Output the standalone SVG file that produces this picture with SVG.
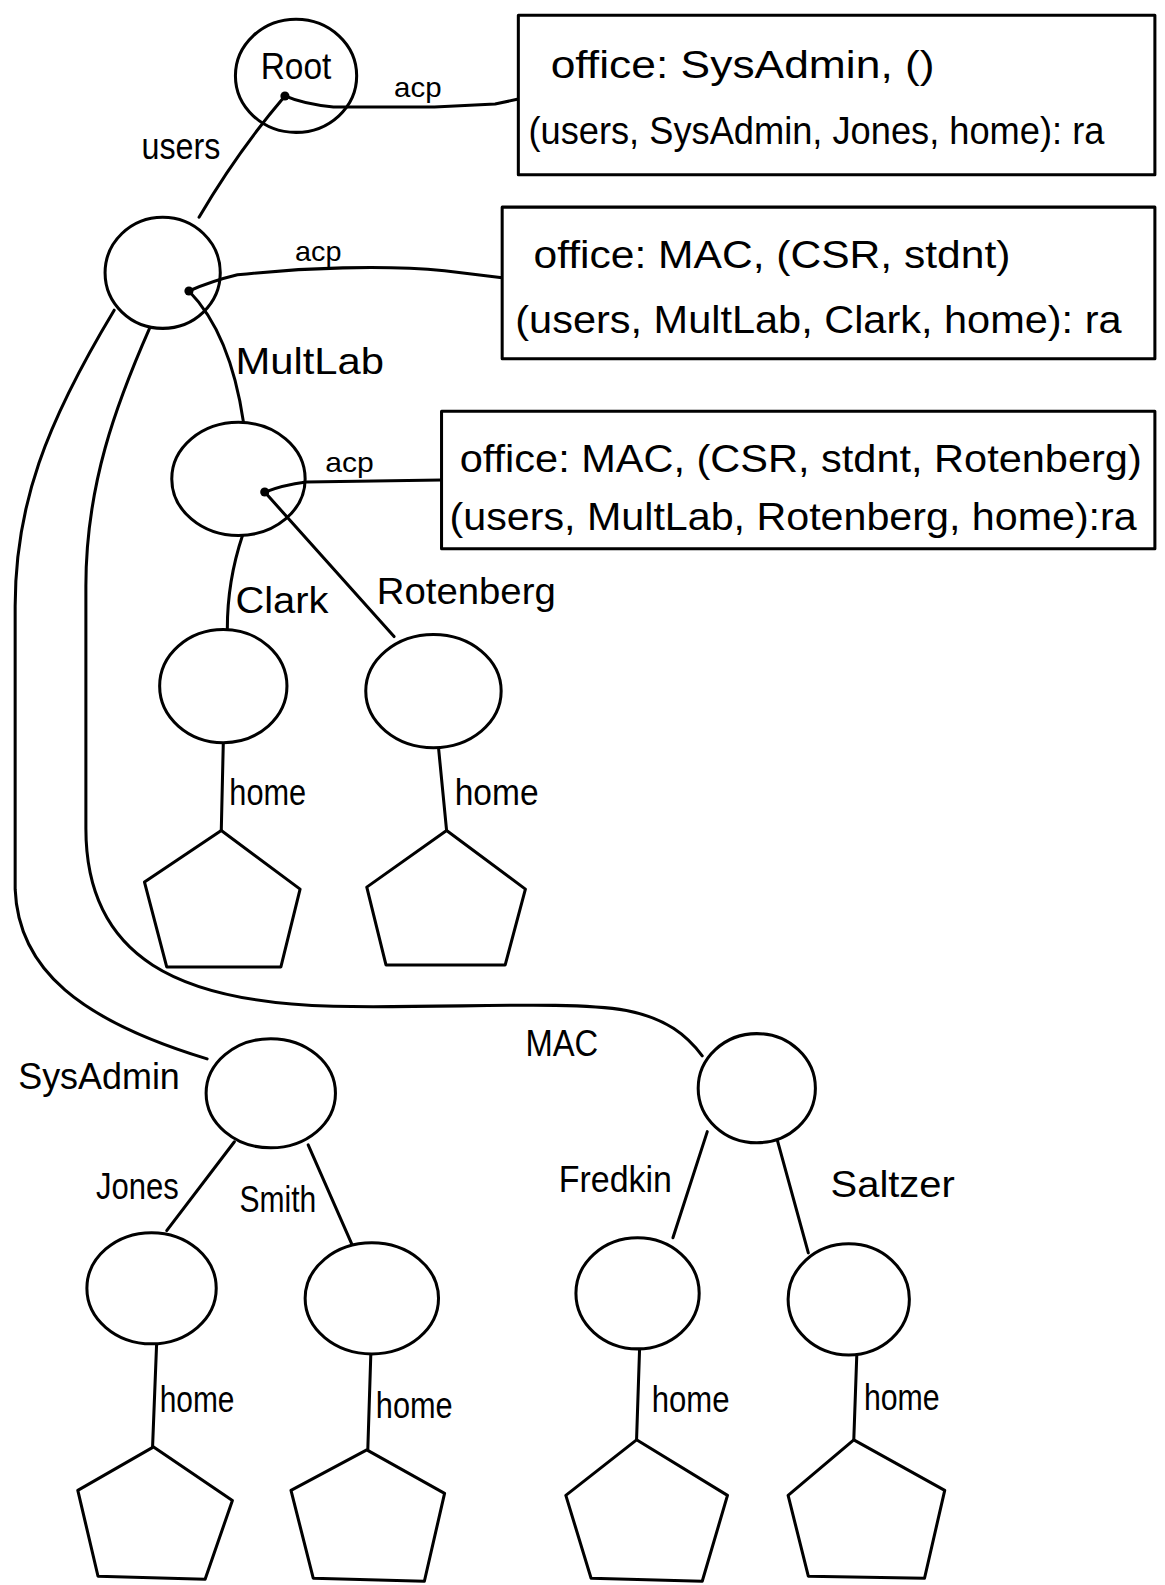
<svg xmlns="http://www.w3.org/2000/svg" width="1165" height="1585" viewBox="0 0 1165 1585">
  <defs>
    <style>
      .ln { fill: none; stroke: #000; stroke-width: 3; stroke-linecap: round; stroke-linejoin: round; }
      .nd { fill: #fff; stroke: #000; stroke-width: 3; stroke-linejoin: round; }
      .open { fill: none; }
      .dot { fill: #000; }
      text { font-family: "Liberation Sans", Arial, sans-serif; fill: #000; }
      .box { font-size: 38px; }
      .lbl { font-size: 36px; }
      .acp { font-size: 27px; }
    </style>
  </defs>
  <rect width="1165" height="1585" fill="#fff"/>
  <g transform="scale(1.0104)">
    <!-- connectors -->
    <g id="connectors">
      <path class="ln" d="M282,95 Q300,103 330,106 L430,106 L490,103 L513,98"/>
      <path class="ln" d="M282,95 Q235,150 197,215"/>
      <path class="ln" d="M187,288 Q210,278 235,272 C300,265 380,262 440,268 L497,275"/>
      <path class="ln" d="M187,288 Q228,330 241,418"/>
      <path class="ln" d="M113,307 C45,420 15,500 15,600 L15,880 C18,960 80,1010 205,1048"/>
      <path class="ln" d="M148,325 C115,400 85,480 85,580 L85,820 C85,950 180,992 330,996 C450,998 560,990 620,1000 C660,1008 680,1025 695,1045"/>
      <path class="ln" d="M262,487 Q280,480 303,477 L437,475"/>
      <path class="ln" d="M240,530 C230,560 225,590 225,622"/>
      <path class="ln" d="M262,487 L390,630"/>
      <path class="ln" d="M221,735 L219,822"/>
      <path class="ln" d="M434,740 L442,822"/>
      <path class="ln" d="M232,1130 L165,1218"/>
      <path class="ln" d="M305,1133 L352,1240"/>
      <path class="ln" d="M155,1330 L151,1432"/>
      <path class="ln" d="M367,1340 L364,1435"/>
      <path class="ln" d="M700,1120 L666,1225"/>
      <path class="ln" d="M767,1120 L800,1240"/>
      <path class="ln" d="M633,1335 L630,1425"/>
      <path class="ln" d="M848,1340 L845,1425"/>
      <circle class="dot" cx="282" cy="95" r="4.5"/>
      <circle class="dot" cx="187" cy="288" r="4.5"/>
      <circle class="dot" cx="262" cy="487" r="4.5"/>
      <!-- edge labels -->
      <text class="acp" x="390" y="96" textLength="47" lengthAdjust="spacingAndGlyphs">acp</text>
      <text class="lbl" x="140" y="157" textLength="78" lengthAdjust="spacingAndGlyphs">users</text>
      <text class="acp" x="292" y="258" textLength="46" lengthAdjust="spacingAndGlyphs">acp</text>
      <text class="lbl" x="233" y="370" textLength="147" lengthAdjust="spacingAndGlyphs">MultLab</text>
      <text class="acp" x="322" y="467" textLength="48" lengthAdjust="spacingAndGlyphs">acp</text>
      <text class="lbl" x="233" y="607" textLength="92" lengthAdjust="spacingAndGlyphs">Clark</text>
      <text class="lbl" x="373" y="598" textLength="177" lengthAdjust="spacingAndGlyphs">Rotenberg</text>
      <text class="lbl" x="227" y="797" textLength="76" lengthAdjust="spacingAndGlyphs">home</text>
      <text class="lbl" x="450" y="797" textLength="83" lengthAdjust="spacingAndGlyphs">home</text>
      <text class="lbl" x="18" y="1078" textLength="160" lengthAdjust="spacingAndGlyphs">SysAdmin</text>
      <text class="lbl" x="520" y="1045" textLength="72" lengthAdjust="spacingAndGlyphs">MAC</text>
      <text class="lbl" x="95" y="1187" textLength="82" lengthAdjust="spacingAndGlyphs">Jones</text>
      <text class="lbl" x="237" y="1200" textLength="76" lengthAdjust="spacingAndGlyphs">Smith</text>
      <text class="lbl" x="553" y="1180" textLength="112" lengthAdjust="spacingAndGlyphs">Fredkin</text>
      <text class="lbl" x="822" y="1185" textLength="123" lengthAdjust="spacingAndGlyphs">Saltzer</text>
      <text class="lbl" x="158" y="1397" textLength="74" lengthAdjust="spacingAndGlyphs">home</text>
      <text class="lbl" x="372" y="1403" textLength="76" lengthAdjust="spacingAndGlyphs">home</text>
      <text class="lbl" x="645" y="1397" textLength="77" lengthAdjust="spacingAndGlyphs">home</text>
      <text class="lbl" x="855" y="1395" textLength="75" lengthAdjust="spacingAndGlyphs">home</text>
    </g>

    <!-- directory nodes -->
    <g id="root">
      <ellipse class="nd open" cx="293" cy="75" rx="60" ry="56"/>
      <text class="lbl" x="258" y="78" textLength="70" lengthAdjust="spacingAndGlyphs">Root</text>
    </g>
    <g id="users"><ellipse class="nd open" cx="161" cy="270" rx="57" ry="55"/></g>
    <g id="multlab"><ellipse class="nd open" cx="236" cy="474" rx="66" ry="56"/></g>
    <g id="clark"><ellipse class="nd" cx="221" cy="679" rx="63" ry="56"/></g>
    <g id="rotenberg"><ellipse class="nd" cx="429" cy="684" rx="67" ry="56"/></g>
    <g id="sysadmin"><ellipse class="nd" cx="268" cy="1082" rx="64" ry="54"/></g>
    <g id="mac"><ellipse class="nd" cx="749" cy="1077" rx="58" ry="54"/></g>
    <g id="jones"><ellipse class="nd" cx="150" cy="1275" rx="64" ry="55"/></g>
    <g id="smith"><ellipse class="nd" cx="368" cy="1285" rx="66" ry="55"/></g>
    <g id="fredkin"><ellipse class="nd" cx="631" cy="1280" rx="61" ry="55"/></g>
    <g id="saltzer"><ellipse class="nd" cx="840" cy="1286" rx="60" ry="55"/></g>

    <!-- home directories -->
    <g id="clark-home"><polygon class="nd" points="219,822 297,880 278,957 165,957 143,873"/></g>
    <g id="rotenberg-home"><polygon class="nd" points="442,822 520,880 500,955 382,955 363,878"/></g>
    <g id="jones-home"><polygon class="nd" points="152,1432 230,1485 203,1563 97,1560 77,1475"/></g>
    <g id="smith-home"><polygon class="nd" points="363,1435 440,1478 420,1565 310,1562 288,1475"/></g>
    <g id="fredkin-home"><polygon class="nd" points="630,1425 720,1480 695,1565 585,1562 560,1480"/></g>
    <g id="saltzer-home"><polygon class="nd" points="845,1425 935,1475 915,1562 800,1560 780,1480"/></g>

    <!-- access control boxes -->
    <g id="acp-root">
      <rect class="nd" x="513" y="15" width="630" height="158"/>
      <text class="box" x="545" y="77" textLength="380" lengthAdjust="spacingAndGlyphs">office:  SysAdmin, ()</text>
      <text class="box" x="523" y="143" textLength="570" lengthAdjust="spacingAndGlyphs">(users, SysAdmin, Jones, home): ra</text>
    </g>
    <g id="acp-users">
      <rect class="nd" x="497" y="205" width="646" height="150"/>
      <text class="box" x="528" y="265" textLength="472" lengthAdjust="spacingAndGlyphs">office:  MAC,  (CSR,  stdnt)</text>
      <text class="box" x="510" y="330" textLength="600" lengthAdjust="spacingAndGlyphs">(users,  MultLab,  Clark, home): ra</text>
    </g>
    <g id="acp-multlab">
      <rect class="nd" x="437" y="407" width="706" height="136"/>
      <text class="box" x="455" y="467" textLength="675" lengthAdjust="spacingAndGlyphs">office:  MAC,  (CSR,  stdnt,  Rotenberg)</text>
      <text class="box" x="445" y="525" textLength="680" lengthAdjust="spacingAndGlyphs">(users,  MultLab,  Rotenberg, home):ra</text>
    </g>
  </g>
</svg>
